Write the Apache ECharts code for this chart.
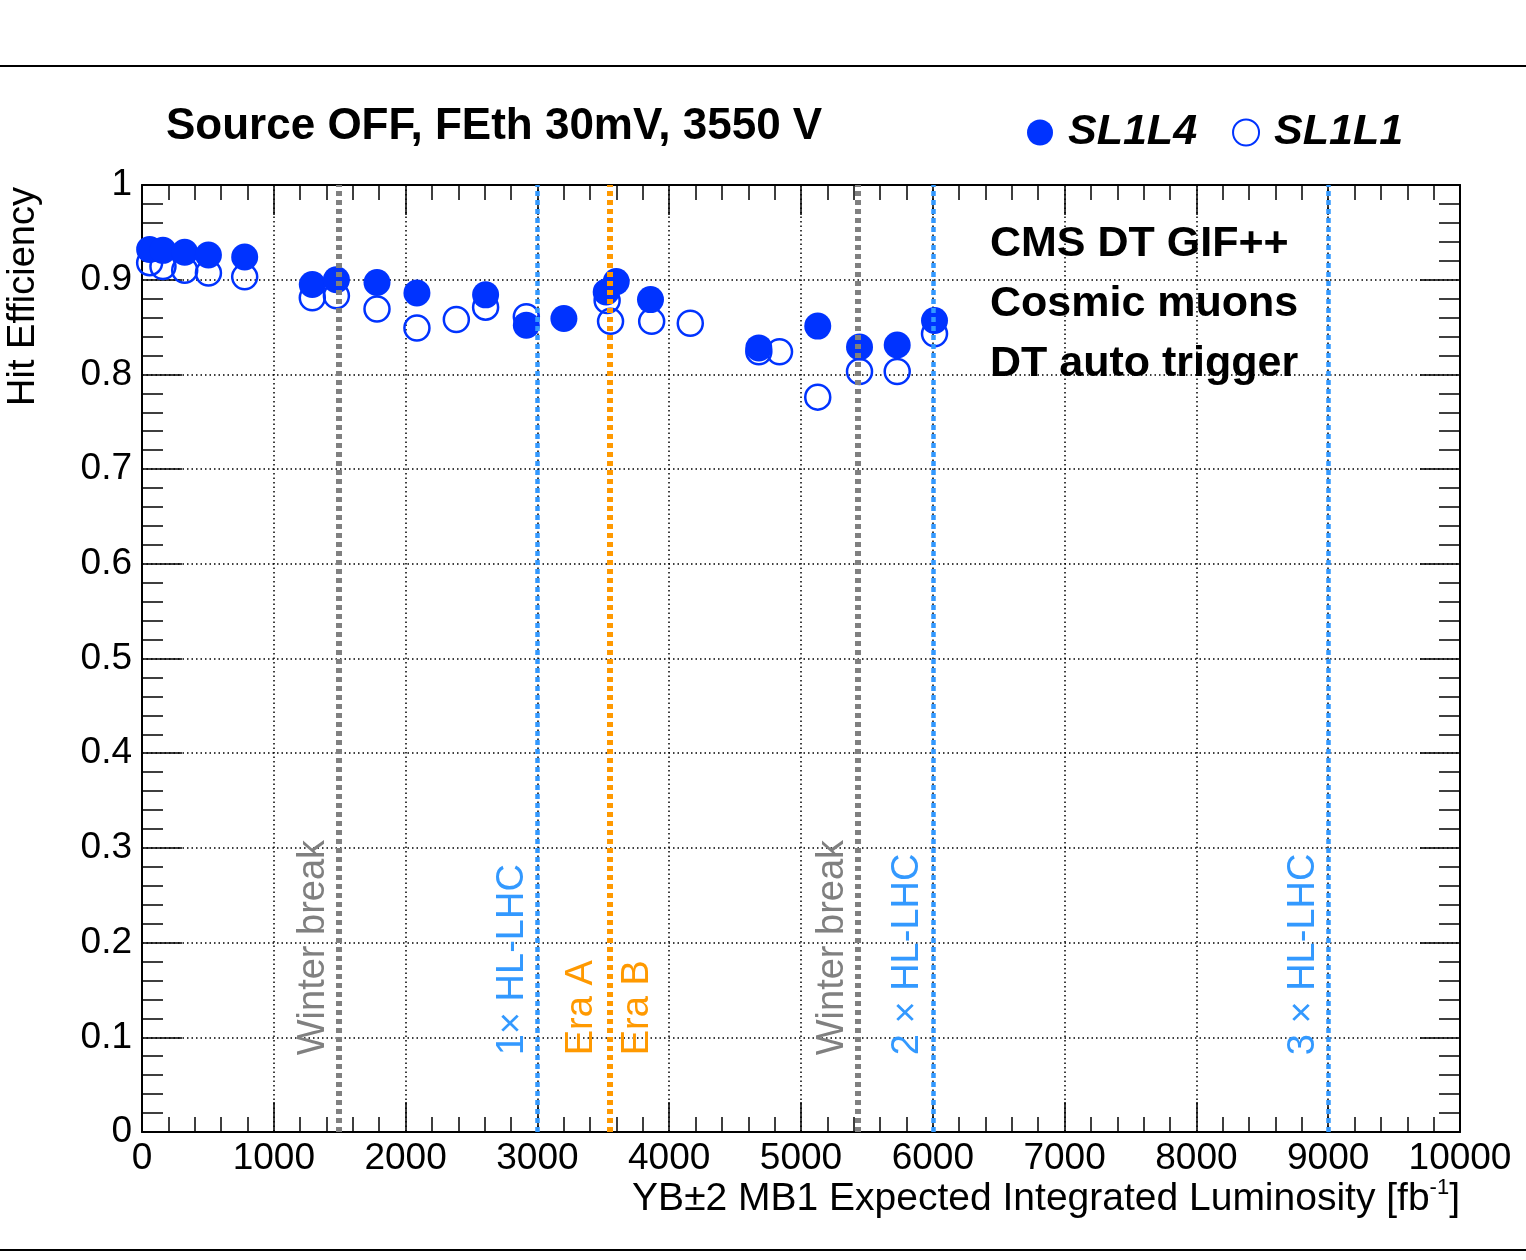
<!DOCTYPE html>
<html>
<head>
<meta charset="utf-8">
<title>Hit efficiency vs luminosity</title>
<script src="https://cdn.jsdelivr.net/npm/echarts@6.0.0/dist/echarts.min.js"></script>
<style>
  html, body { margin: 0; padding: 0; background: #fff; }
  #chart { width: 1526px; height: 1260px; }
</style>
</head>
<body>
<div id="chart"></div>
<script>
// SL1L4 (filled) and SL1L1 (open) hit efficiency vs expected integrated luminosity
const lumiSL1L4 = [58, 159, 324, 504, 779, 1292, 1475, 1783, 2086, 2607, 2916, 3201, 3522, 3598, 3858, 4680, 5127, 5444, 5730, 6013];
const effSL1L4 = [0.932, 0.931, 0.929, 0.926, 0.924, 0.895, 0.900, 0.897, 0.886, 0.884, 0.852, 0.859, 0.887, 0.898, 0.879, 0.828, 0.851, 0.829, 0.831, 0.857];

const lumiSL1L1 = [58, 159, 324, 504, 779, 1292, 1475, 1783, 2086, 2385, 2607, 2916, 3529, 3555, 3867, 4160, 4680, 4837, 5127, 5444, 5730, 6013];
const effSL1L1 = [0.918, 0.914, 0.910, 0.907, 0.903, 0.881, 0.883, 0.869, 0.849, 0.858, 0.871, 0.861, 0.878, 0.856, 0.856, 0.854, 0.824, 0.824, 0.776, 0.803, 0.803, 0.843];

// vertical reference lines
const markerLumi = [1490, 3000, 3550, 5430, 6000, 9000];
const markerKind = ['break', 'hllhc', 'era', 'break', 'hllhc', 'hllhc'];
const markerLabels = [['Winter break'], ['1\u00d7 HL-LHC'], ['Era A', 'Era B'], ['Winter break'], ['2 \u00d7 HL-LHC'], ['3 \u00d7 HL-LHC']];

const seriesNames = ['SL1L4', 'SL1L1'];

const FONT = '"Liberation Sans", Arial, Helvetica, sans-serif';
const BLUE = '#0033ff';
const kindColor = { break: '#808080', hllhc: '#3399ff', era: '#ff9900' };
const kindWidth = { break: 6, hllhc: 4.5, era: 6 };

const chart = echarts.init(document.getElementById('chart'));

// axis with ticks only (ROOT style frame on every side)
function frameAxis(base, extra) {
  return Object.assign({
    axisLine: { show: true, onZero: false, lineStyle: { color: '#000', width: 2 } },
    axisLabel: { show: false },
    splitLine: { show: false }
  }, base, extra);
}

const xBase = {
  type: 'value', min: 0, max: 10000, interval: 1000,
  axisTick: { show: true, inside: true, length: 30, lineStyle: { color: '#000', width: 1.5 } },
  minorTick: { show: true, splitNumber: 5, length: 15, lineStyle: { color: '#000', width: 1.5 } }
};
const yBase = {
  type: 'value', min: 0, max: 1, interval: 0.1,
  axisTick: { show: true, inside: true, length: 40, lineStyle: { color: '#000', width: 1.5 } },
  minorTick: { show: true, splitNumber: 5, length: 21, lineStyle: { color: '#000', width: 1.5 } }
};
const gridDots = { show: true, lineStyle: { color: '#000', width: 1.5, type: [1.5, 3] } };

const option = {
  animation: false,
  backgroundColor: '#fff',
  textStyle: { fontFamily: FONT },
  grid: { left: 142, top: 185, width: 1318, height: 947 },
  title: [
    {
      text: 'Source OFF, FEth 30mV, 3550 V',
      left: 166, top: 105, padding: 0,
      textStyle: { fontFamily: FONT, fontSize: 44, fontWeight: 'bold', color: '#000' }
    },
    {
      text: 'CMS DT GIF++\nCosmic muons\nDT auto trigger',
      left: 990, top: 214, padding: 0,
      textStyle: { fontFamily: FONT, fontSize: 43, fontWeight: 'bold', color: '#000', lineHeight: 60 }
    }
  ],
  legend: {
    left: 1022, top: 106,
    itemWidth: 26, itemHeight: 26, itemGap: 35,
    textStyle: { fontFamily: FONT, fontSize: 43, fontWeight: 'bold', fontStyle: 'italic', color: '#000', padding: [0, 0, 0, 10] },
    data: [
      { name: seriesNames[0], icon: 'circle', itemStyle: { color: BLUE, opacity: 1 } },
      { name: seriesNames[1], icon: 'circle', itemStyle: { color: 'rgba(0,0,0,0)', borderColor: BLUE, borderWidth: 2, opacity: 1 } }
    ]
  },
  xAxis: [
    frameAxis(xBase, {
      position: 'bottom',
      axisLabel: { show: true, color: '#000', fontSize: 37, margin: 8, formatter: v => String(v) },
      splitLine: gridDots
    }),
    frameAxis(xBase, { position: 'top' })
  ],
  yAxis: [
    frameAxis(yBase, {
      position: 'left',
      axisLabel: { show: true, color: '#000', fontSize: 37, margin: 10, formatter: v => String(+v.toFixed(1)) },
      splitLine: gridDots
    }),
    frameAxis(yBase, { position: 'right' })
  ],
  series: [
    {
      name: seriesNames[1], type: 'scatter', z: 3,
      symbol: 'circle', symbolSize: 25,
      itemStyle: { color: 'rgba(0,0,0,0)', borderColor: BLUE, borderWidth: 2.5, opacity: 1 },
      emphasis: { disabled: true },
      data: lumiSL1L1.map((x, i) => [x, effSL1L1[i]])
    },
    {
      name: seriesNames[0], type: 'scatter', z: 4,
      symbol: 'circle', symbolSize: 27,
      itemStyle: { color: BLUE, opacity: 1 },
      emphasis: { disabled: true },
      data: lumiSL1L4.map((x, i) => [x, effSL1L4[i]]),
      markLine: {
        silent: true,
        symbol: ['none', 'none'],
        label: { show: false },
        data: markerLumi.map((v, i) => ({
          xAxis: v,
          lineStyle: { color: kindColor[markerKind[i]], width: kindWidth[markerKind[i]], type: [5, 4], cap: 'butt', opacity: 1 }
        }))
      }
    }
  ]
};

chart.setOption(option);

// labels along the reference lines + frame / axis titles
const labelEff = 0.081;
const graphics = [
  { type: 'line', shape: { x1: 0, y1: 66, x2: 1526, y2: 66 }, style: { stroke: '#000', lineWidth: 2 } },
  { type: 'line', shape: { x1: 0, y1: 1250, x2: 1526, y2: 1250 }, style: { stroke: '#000', lineWidth: 2 } },
  {
    type: 'text', x: 24, y: 187, rotation: Math.PI / 2,
    style: { text: 'Hit Efficiency', fill: '#000', fontSize: 38, fontFamily: FONT,
      align: 'right', textAlign: 'right', verticalAlign: 'middle', textVerticalAlign: 'middle' }
  },
  {
    type: 'text', x: 1460, y: 1199,
    style: {
      text: 'YB\u00b12 MB1 Expected Integrated Luminosity [fb{sup|-1}]',
      fill: '#000', fontSize: 39, fontFamily: FONT,
      align: 'right', textAlign: 'right', verticalAlign: 'middle', textVerticalAlign: 'middle',
      rich: { sup: { fontSize: 22, fontFamily: FONT, fill: '#000', padding: [0, 0, 22, 0] } }
    }
  }
];

markerLumi.forEach((v, i) => {
  const p = chart.convertToPixel({ xAxisIndex: 0, yAxisIndex: 0 }, [v, labelEff]);
  const labels = markerLabels[i];
  const offsets = labels.length === 2 ? [-28, 28] : [-25];
  labels.forEach((txt, j) => {
    graphics.push({
      type: 'text', x: p[0] + offsets[j], y: p[1], rotation: Math.PI / 2,
      style: {
        text: txt, fill: kindColor[markerKind[i]], fontSize: 38, fontFamily: FONT,
        align: 'left', textAlign: 'left', verticalAlign: 'middle', textVerticalAlign: 'middle'
      }
    });
  });
});

chart.setOption({ graphic: graphics });
</script>
</body>
</html>
